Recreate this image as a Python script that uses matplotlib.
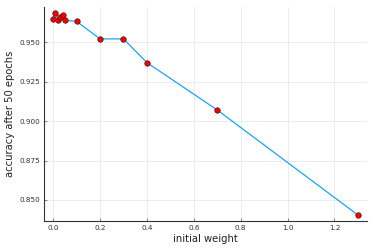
import matplotlib
matplotlib.use("Agg")
import matplotlib.pyplot as plt

# initial weight vs accuracy after 50 epochs
weights = [0.0, 0.01, 0.02, 0.03, 0.04, 0.05, 0.1, 0.2, 0.3, 0.4, 0.7, 1.3]
accuracy = [0.9646, 0.9684, 0.9642, 0.9661, 0.9672, 0.9638, 0.9631,
            0.952, 0.952, 0.937, 0.907, 0.8405]

xticks = [0.0, 0.2, 0.4, 0.6, 0.8, 1.0, 1.2]
yticks = [0.850, 0.875, 0.900, 0.925, 0.950]

fig = plt.figure(figsize=(3.74, 2.49), dpi=100)
ax = fig.add_axes([44 / 374, 1 - 221 / 249, (367 - 44) / 374, (221 - 7) / 249])

ax.plot(weights, accuracy, color="#1EA3F5", linewidth=0.9, zorder=2)
ax.scatter(weights, accuracy, s=16, color="#F00000", edgecolors="#3a1010",
           linewidths=0.4, zorder=3)

ax.set_xlim(-0.039, 1.339)
ax.set_ylim(0.8367, 0.9722)
ax.set_xticks(xticks)
ax.set_xticklabels(["%.1f" % t for t in xticks])
ax.set_yticks(yticks)
ax.set_yticklabels(["%.3f" % t for t in yticks])

ax.grid(True, color="#e9e9e9", linewidth=0.6)
ax.set_axisbelow(True)
ax.spines["top"].set_visible(False)
ax.spines["right"].set_visible(False)
for s in ["left", "bottom"]:
    ax.spines[s].set_color("#333333")
    ax.spines[s].set_linewidth(0.8)
ax.tick_params(direction="in", length=2, width=0.5, color="#555555",
               labelsize=5.2, labelcolor="#333333", pad=3)

ax.set_xlabel("initial weight", fontsize=7.2, color="#222222", labelpad=2)
ax.set_ylabel("accuracy after 50 epochs", fontsize=7.2, color="#222222", labelpad=3)

fig.savefig("out.png", dpi=100)
